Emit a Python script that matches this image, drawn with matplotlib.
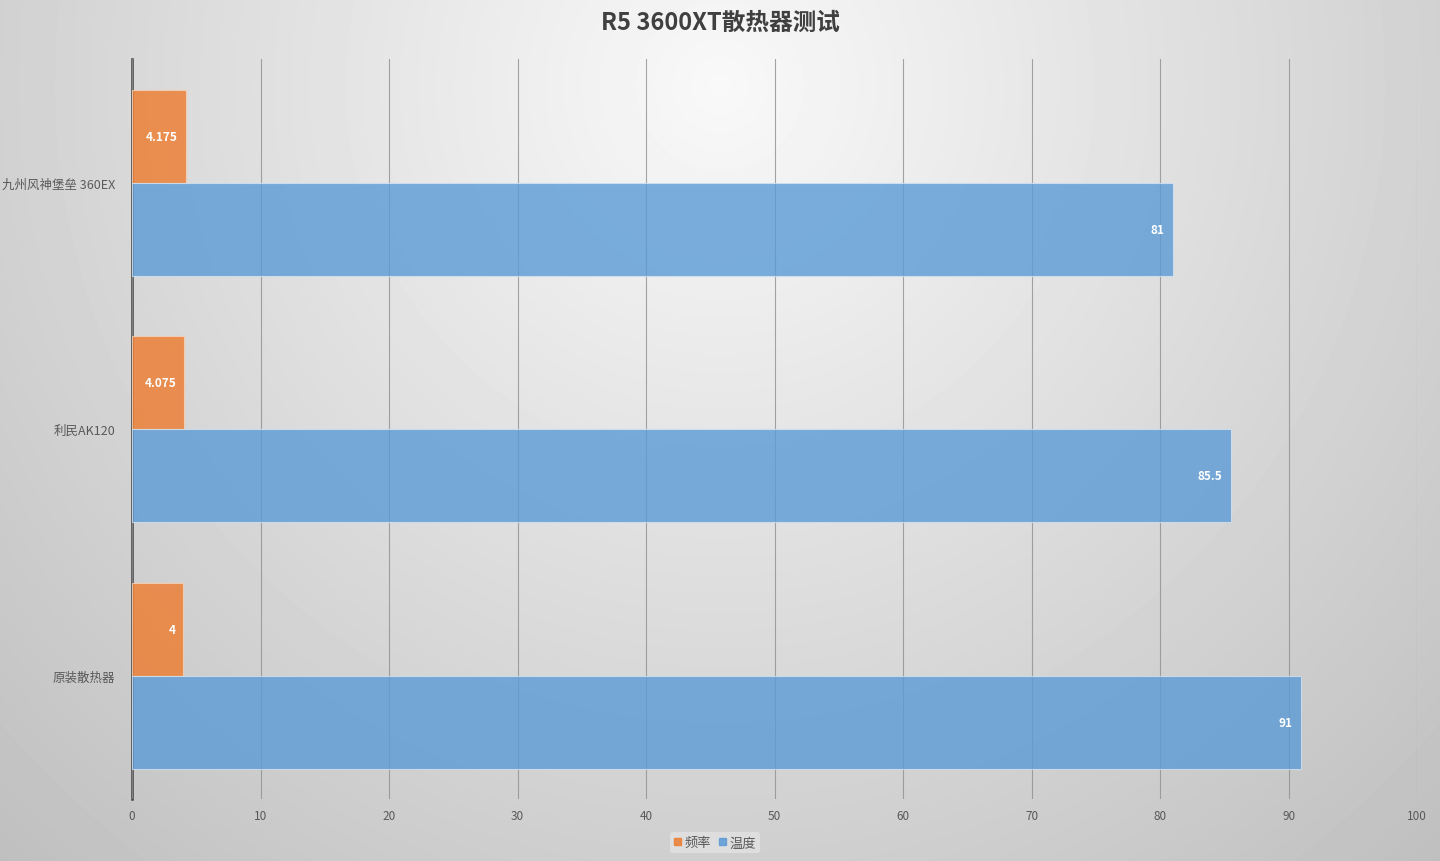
import numpy as np
import matplotlib.pyplot as plt
from matplotlib.patches import Patch

plt.rcParams['font.family'] = ['Noto Sans CJK SC', 'DejaVu Sans']

categories = ['原装散热器', '利民AK120', '九州风神堡垒 360EX']
freq = [4, 4.075, 4.175]
temp = [91, 85.5, 81]
freq_labels = ['4', '4.075', '4.175']
temp_labels = ['91', '85.5', '81']

fig = plt.figure(figsize=(14.4, 8.62), dpi=100)

# radial gradient background, lightest near the top centre
bg = fig.add_axes([0, 0, 1, 1], zorder=-10)
yy, xx = np.mgrid[1:0:431j, 0:1:720j]
r = np.sqrt(((xx - 0.5) / 0.62) ** 2 + ((yy - 0.9) / 1.05) ** 2)
r = np.clip(r, 0, 1.2) / 1.2
shade = 0.975 - 0.23 * r
bg.imshow(shade, cmap='gray', vmin=0, vmax=1, aspect='auto', extent=[0, 1, 0, 1])
bg.axis('off')

ax = fig.add_axes([0.0917, 0.072, 0.8924, 0.858])
ax.patch.set_alpha(0)

y = np.arange(len(categories))
h = 0.377
orange = '#ED7D31'
blue = '#5B9BD5'

ax.barh(y + h / 2, freq, height=h, color=orange, alpha=0.82, edgecolor='#f6d2b8', linewidth=0.8, zorder=3)
ax.barh(y - h / 2, temp, height=h, color=blue, alpha=0.8, edgecolor='#d3e3f2', linewidth=0.8, zorder=3)

for i in range(len(categories)):
    ax.text(freq[i] - 0.6, y[i] + h / 2, freq_labels[i], ha='right', va='center',
            color='white', fontsize=8.5, fontweight='bold', zorder=5)
    ax.text(temp[i] - 0.7, y[i] - h / 2, temp_labels[i], ha='right', va='center',
            color='white', fontsize=8.5, fontweight='bold', zorder=5)

ax.set_xlim(0, 100)
ax.set_ylim(-0.5, 2.5)
ax.set_xticks(range(0, 101, 10))
ax.set_yticks(y)
ax.set_yticklabels(categories)
ax.xaxis.grid(True, color='#8f8f8f', linewidth=0.8, alpha=0.8, zorder=4)
ax.set_axisbelow(False)
for s in ['top', 'right', 'bottom']:
    ax.spines[s].set_visible(False)
ax.spines['left'].set_color('#404040')
ax.spines['left'].set_linewidth(1.8)
ax.tick_params(axis='both', length=0, colors='#595959', labelsize=8.5)
ax.tick_params(axis='x', pad=7)
ax.tick_params(axis='y', labelsize=9, pad=12)

fig.suptitle('R5 3600XT散热器测试', x=0.5, y=0.988, fontsize=17, fontweight='bold', color='#404040')

handles = [Patch(color=orange, alpha=0.85, label='频率'), Patch(color=blue, alpha=0.85, label='温度')]
leg = fig.legend(handles=handles, loc='center', bbox_to_anchor=(0.4965, 0.021), ncol=2,
                 frameon=True, fontsize=9.5, handlelength=0.5, handleheight=0.5,
                 handletextpad=0.3, columnspacing=0.6, borderpad=0.3)
leg.get_frame().set_facecolor('#e2e2e2')
leg.get_frame().set_edgecolor('none')
for t in leg.get_texts():
    t.set_color('#595959')

fig.savefig('out.png', dpi=100)
